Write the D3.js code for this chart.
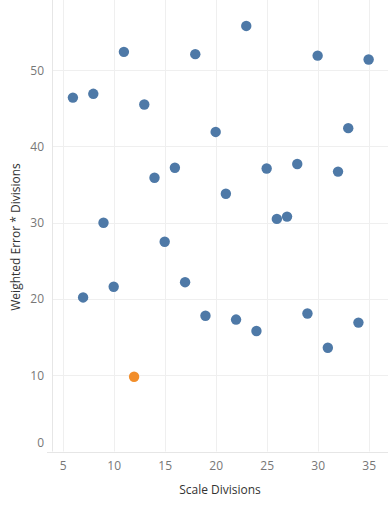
<!DOCTYPE html>
<html>
<head>
<meta charset="utf-8">
<title>Weighted Error</title>
<script src="https://cdn.jsdelivr.net/npm/d3@7"></script>
<style>
  body { margin: 0; background: #fff; }
  svg text { font-family: "Open Sans", "Lato", sans-serif; }
  .grid line { stroke: #efefef; stroke-width: 1; }
  .tick text { fill: #777; font-size: 12px; }
</style>
</head>
<body>
<div id="chart"></div>
<script>
// data
var divisions = [6, 7, 8, 9, 10, 11, 12, 13, 14, 15, 16, 17, 18, 19, 20,
                 21, 22, 23, 24, 25, 26, 27, 28, 29, 30, 31, 32, 33, 34, 35];
var weightedError = [46.4, 20.2, 46.9, 30.0, 21.6, 52.4, 9.8, 45.5, 35.9, 27.5,
                     37.2, 22.2, 52.1, 17.8, 41.9, 33.8, 17.3, 55.8, 15.8, 37.1,
                     30.5, 30.8, 37.7, 18.1, 51.9, 13.6, 36.7, 42.4, 16.9, 51.4];
var highlight = 12;   // the minimum, drawn orange
var xTicks = [5, 10, 15, 20, 25, 30, 35];
var yTicks = [0, 10, 20, 30, 40, 50];

var width = 388, height = 506;
var margin = {top: 0, right: 0, bottom: 55, left: 52};

var svg = d3.select("#chart").append("svg")
    .attr("width", width)
    .attr("height", height);

var x = d3.scaleLinear()
    .domain([3.95, 36.9])
    .range([margin.left, width - margin.right]);

var y = d3.scaleLinear()
    .domain([0, 59.2])
    .range([height - margin.bottom + 0.5, margin.top]);

// grid
svg.append("g").attr("class", "grid")
  .selectAll("line.v").data(xTicks).enter().append("line")
    .attr("x1", d => Math.round(x(d)) + 0.5).attr("x2", d => Math.round(x(d)) + 0.5)
    .attr("y1", y.range()[1]).attr("y2", y(0));

svg.append("g").attr("class", "grid")
  .selectAll("line.h").data(yTicks.filter(d => d > 0)).enter().append("line")
    .attr("x1", margin.left).attr("x2", width)
    .attr("y1", d => Math.round(y(d)) + 0.5).attr("y2", d => Math.round(y(d)) + 0.5);

// axis lines
svg.append("line")
    .attr("x1", margin.left + 0.5).attr("x2", margin.left + 0.5)
    .attr("y1", 0).attr("y2", y(0))
    .attr("stroke", "#e6e6e6");
svg.append("line")
    .attr("x1", margin.left - 5).attr("x2", width)
    .attr("y1", Math.round(y(0)) + 0.5).attr("y2", Math.round(y(0)) + 0.5)
    .attr("stroke", "#e6e6e6");

// x axis
var xAxis = g => g
    .attr("transform", `translate(0,${y(0)})`)
    .call(d3.axisBottom(x).tickValues(xTicks).tickSize(0).tickPadding(10))
    .call(g => g.select(".domain").remove());
svg.append("g").call(xAxis);

// y axis
var yAxis = g => g
    .attr("transform", `translate(${margin.left},0)`)
    .call(d3.axisLeft(y).tickValues(yTicks).tickSize(0).tickPadding(8))
    .call(g => g.select(".domain").remove())
    .call(g => g.selectAll(".tick text").filter(d => d == 0).attr("dy", "-0.4em"));
svg.append("g").call(yAxis);

// titles
svg.append("text")
    .attr("x", (margin.left + width) / 2)
    .attr("y", 494)
    .attr("text-anchor", "middle")
    .attr("fill", "#333")
    .style("font-size", "12px")
    .text("Scale Divisions");

svg.append("text")
    .attr("transform", `translate(20,237) rotate(-90)`)
    .attr("text-anchor", "middle")
    .attr("fill", "#333")
    .style("font-size", "12px")
    .text("Weighted Error * Divisions");

// points
svg.append("g")
  .selectAll("circle")
  .data(divisions)
  .enter()
  .append("circle")
    .attr("cx", d => x(d))
    .attr("cy", (d, i) => y(weightedError[i]))
    .attr("r", 5.2)
    .style("fill", d => d == highlight ? "#f28e2b" : "#4e79a7");
</script>
</body>
</html>
